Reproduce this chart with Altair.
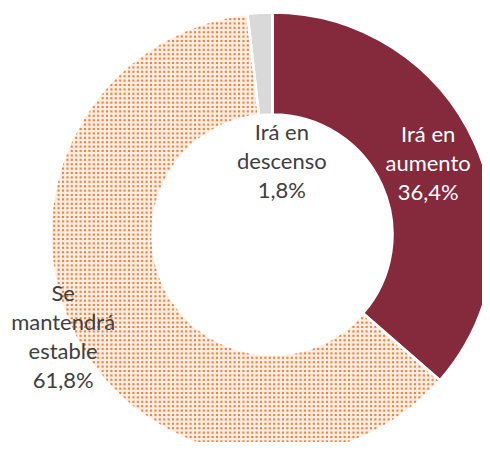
import altair as alt
import pandas as pd

categories = ["Irá en aumento", "Se mantendrá estable", "Irá en descenso"]
values = [36.4, 61.8, 1.8]
label_lines = ["Irá en|aumento|36,4%", "Se|mantendrá|estable|61,8%", "Irá en|descenso|1,8%"]
slice_order = [1, 2, 3]

slice_colors = ["#852A3C", "#FCEEE4", "#D9D9D9"]
text_colors = ["#FFFFFF", "#404040", "#404040"]
label_shift = [(0, -29), (-58, -20), (19, 69)]

df = pd.DataFrame({"cat": categories, "value": values, "label": label_lines, "ord": slice_order})

W, H = 474, 434
CX, CY = 264.5, 226.5
R_IN, R_OUT = 120, 222
theta_scale = alt.Scale(domain=[0, 100])

arc = alt.Chart(df).mark_arc(innerRadius=R_IN, outerRadius=R_OUT, strokeWidth=0).encode(
    theta=alt.Theta("value:Q", stack=True, scale=theta_scale),
    order=alt.Order("ord:Q"),
    color=alt.Color("cat:N", scale=alt.Scale(domain=categories, range=slice_colors), legend=None),
    x=alt.value(CX),
    y=alt.value(CY),
)

# dotted texture of the "Se mantendrá estable" slice (pattern fill)
total = sum(values)
a0 = 360 * values[0] / total
a1 = 360 * (values[0] + values[1]) / total
P = 4.4
COLS = int(W / P) + 1
ROWS = int(H / P) + 1
dots = (
    alt.Chart(alt.sequence(0, COLS * ROWS, as_="i"))
    .transform_calculate(
        gx=f"(datum.i % {COLS}) * {P} + {P / 2}",
        gy=f"floor(datum.i / {COLS}) * {P} + {P / 2}",
    )
    .transform_calculate(
        rr=f"sqrt(pow(datum.gx - {CX}, 2) + pow(datum.gy - {CY}, 2))",
        ang=f"(atan2(datum.gx - {CX}, {CY} - datum.gy) * 180 / PI + 360) % 360",
    )
    .transform_filter(
        f"datum.rr >= {R_IN + 1} && datum.rr <= {R_OUT - 1} && datum.ang >= {a0} && datum.ang <= {a1}"
    )
    .mark_square(size=4.4, color="#EE7D31", opacity=0.95, strokeWidth=0)
    .encode(
        x=alt.X("gx:Q", scale=None, axis=None),
        y=alt.Y("gy:Q", scale=None, axis=None),
    )
)

gaps = alt.Chart(df).mark_arc(innerRadius=R_IN, outerRadius=R_OUT, stroke="white",
                              strokeWidth=2.5, fillOpacity=0).encode(
    theta=alt.Theta("value:Q", stack=True, scale=theta_scale),
    order=alt.Order("ord:Q"),
    x=alt.value(CX),
    y=alt.value(CY),
)

layers = [arc, dots, gaps]
for cat, tcol, (dx, dy) in zip(categories, text_colors, label_shift):
    t = (
        alt.Chart(df)
        .transform_window(cum="sum(value)", sort=[alt.SortField("ord")], frame=[None, 0])
        .transform_calculate(mid="datum.cum - datum.value / 2", lines="split(datum.label, '|')")
        .transform_filter(alt.datum.cat == cat)
        .mark_text(radius=171, font="Lato", fontSize=22, lineHeight=29, dx=dx, dy=dy,
                   align="center", baseline="middle", color=tcol)
        .encode(
            theta=alt.Theta("mid:Q", scale=theta_scale, stack=None),
            text=alt.Text("lines:N"),
            x=alt.value(CX),
            y=alt.value(CY),
        )
    )
    layers.append(t)

chart = alt.layer(*layers).properties(
    width=W, height=H, padding=0, autosize=alt.AutoSizeParams(type="none")
).configure_view(stroke=None)

chart.save("out.html", embed_options={"renderer": "svg", "actions": False})
